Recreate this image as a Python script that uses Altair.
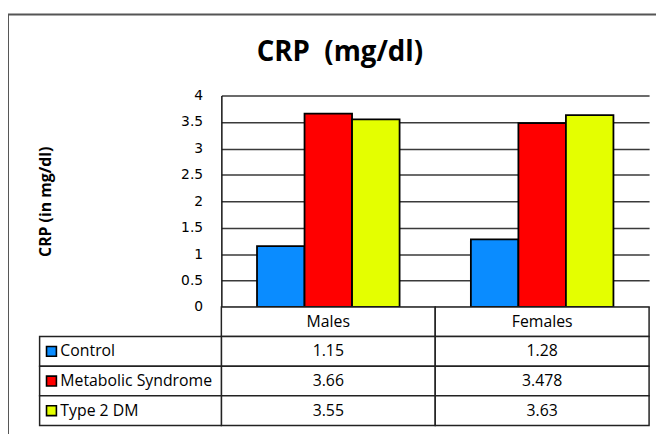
import altair as alt
import pandas as pd

# ---- data ----
groups = ["Males", "Females"]
series = ["Control", "Metabolic Syndrome", "Type 2 DM"]
control = [1.15, 1.28]
metabolic = [3.66, 3.478]
type2 = [3.55, 3.63]
colors = ["#0a8cff", "#ff0000", "#e4ff00"]
y_ticks = [0, 0.5, 1, 1.5, 2, 2.5, 3, 3.5, 4]
title_text = "CRP\u00a0 (mg/dl)"
y_title = "CRP (in mg/dl)"

rows = []
for s, vals in zip(series, [control, metabolic, type2]):
    for g, v in zip(groups, vals):
        rows.append({"group": g, "series": s, "value": v, "label": f"{v:g}"})
bars_df = pd.DataFrame(rows)

table_rows = ["hdr"] + series
header_df = pd.DataFrame({"group": groups, "row": ["hdr"] * len(groups), "label": groups})
cells_df = pd.DataFrame({"group": bars_df["group"], "row": bars_df["series"], "label": bars_df["label"]})
allcells_df = pd.concat([header_df, cells_df], ignore_index=True)
labcol_df = pd.DataFrame({"col": ["lab"] * len(series), "row": series, "series": series})

W, H = 433, 214
TFONT = "Open Sans"
LAB_W = 184

x_group = alt.Scale(domain=groups, paddingInner=0, paddingOuter=0)
y_table = alt.Scale(domain=table_rows, range=[H, H + 120], paddingInner=0, paddingOuter=0)
x_lab = alt.Scale(domain=["lab"], range=[-LAB_W, 0], paddingInner=0, paddingOuter=0)
color_scale = alt.Scale(domain=series, range=colors)

# outer frame
frame = alt.Chart(pd.DataFrame({"a": [0]})).mark_rect(
    fillOpacity=0, stroke="#555555", strokeWidth=2
).encode(x=alt.value(-216), x2=alt.value(470), y=alt.value(-82), y2=alt.value(360))

# title
title = alt.Chart(pd.DataFrame({"t": [title_text]})).mark_text(
    font=TFONT, fontSize=28, fontWeight="bold", align="center", baseline="middle", color="black"
).encode(x=alt.value(120), y=alt.value(-43), text="t:N")

bars = alt.Chart(bars_df).mark_bar(stroke="black", strokeWidth=1.8).encode(
    x=alt.X("group:N", scale=x_group, axis=None),
    xOffset=alt.XOffset("series:N", scale=alt.Scale(domain=series, paddingInner=0, paddingOuter=0.75)),
    y=alt.Y(
        "value:Q",
        scale=alt.Scale(domain=[0, 4], nice=False),
        axis=alt.Axis(
            values=y_ticks, format="~g", title=y_title, grid=True, gridColor="#3a3a3a",
            gridWidth=1.5, ticks=False, domain=True, domainColor="#111111", domainWidth=1.5,
            labelPadding=19, labelFont="DejaVu Sans", labelFontSize=14, labelColor="black",
            titleFont=TFONT, titleFontSize=16, titleFontWeight="bold", titleColor="black",
            titleX=-178, titleY=H / 2, titleAlign="center", titleBaseline="middle", titleAngle=270,
        ),
    ),
    color=alt.Color("series:N", scale=color_scale, legend=None),
)

cell_rects = alt.Chart(allcells_df).mark_rect(fill="white", stroke="#222222", strokeWidth=1.5).encode(
    x=alt.X("group:N", scale=x_group, axis=None),
    y=alt.Y("row:N", scale=y_table, axis=None),
)
cell_text = alt.Chart(allcells_df).mark_text(font=TFONT, fontSize=16, color="black", baseline="middle").encode(
    x=alt.X("group:N", scale=x_group, axis=None),
    y=alt.Y("row:N", scale=y_table, axis=None),
    text="label:N",
)
lab_rects = alt.Chart(labcol_df).mark_rect(fill="white", stroke="#222222", strokeWidth=1.5).encode(
    x=alt.X("col:N", scale=x_lab, axis=None),
    y=alt.Y("row:N", scale=y_table, axis=None),
)
lab_keys = alt.Chart(labcol_df).mark_point(
    shape="square", filled=True, size=100, xOffset=-LAB_W / 2 + 12, stroke="black", strokeWidth=1.6, opacity=1
).encode(
    x=alt.X("col:N", scale=x_lab, axis=None),
    y=alt.Y("row:N", scale=y_table, axis=None),
    color=alt.Color("series:N", scale=color_scale, legend=None),
)
lab_text = alt.Chart(labcol_df).mark_text(
    font=TFONT, fontSize=16, color="black", align="left", baseline="middle", dx=-LAB_W / 2 + 21
).encode(
    x=alt.X("col:N", scale=x_lab, axis=None),
    y=alt.Y("row:N", scale=y_table, axis=None),
    text="series:N",
)

chart = alt.layer(
    frame, title, bars, cell_rects, lab_rects, cell_text, lab_keys, lab_text
).resolve_scale(x="independent", y="independent").properties(
    width=W, height=H,
    autosize=alt.AutoSizeParams(type="none"),
    padding={"left": 216, "top": 86, "right": 7, "bottom": 126},
    background="white",
).configure_view(stroke=None)

chart.save("out.html", embed_options={"renderer": "svg", "actions": False})
